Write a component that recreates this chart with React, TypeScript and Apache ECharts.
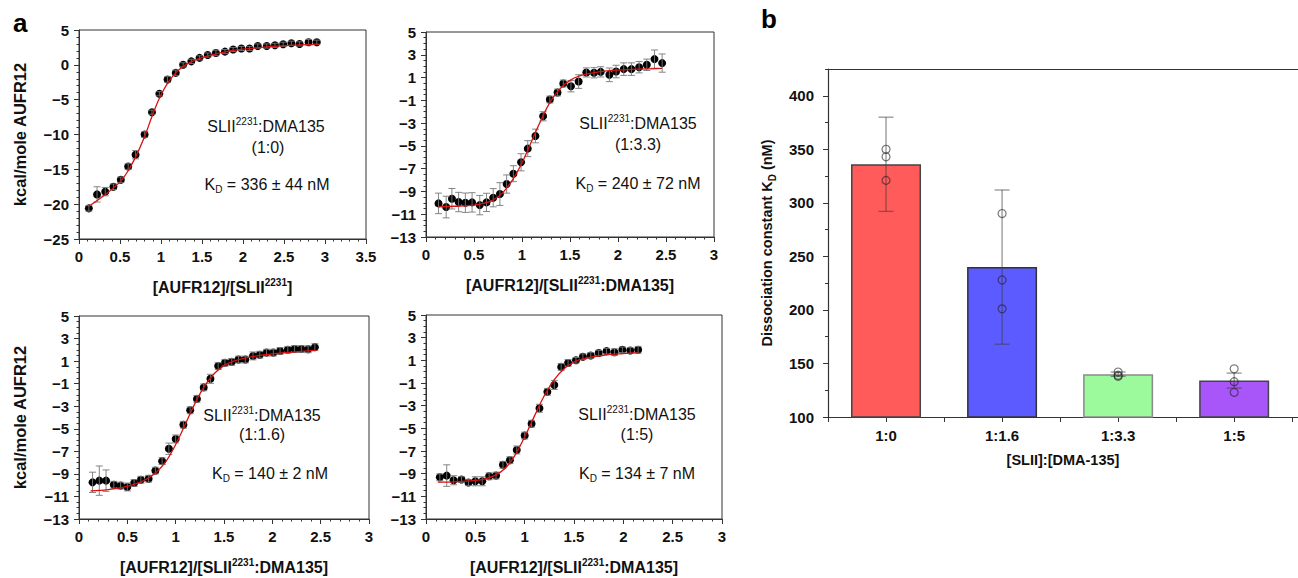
import React, { useEffect, useRef } from 'react';
import * as echarts from 'echarts';

const FONT = "'Liberation Sans', Arial, Helvetica, sans-serif";

// ---------- Panel a: ITC titrations ----------
// (1:0)
const p1X = [0.12, 0.22, 0.32, 0.42, 0.51, 0.6, 0.69, 0.8, 0.89, 0.98, 1.08, 1.18, 1.27, 1.37, 1.47, 1.57, 1.67, 1.78, 1.88, 1.98, 2.08, 2.18, 2.29, 2.39, 2.49, 2.59, 2.69, 2.8, 2.9];
const p1Y = [-20.6, -18.6, -18.2, -17.5, -16.5, -14.6, -12.9, -10.0, -6.8, -4.15, -2.1, -1.15, 0.0, 0.5, 1.0, 1.4, 1.7, 1.9, 2.2, 2.35, 2.35, 2.7, 2.7, 2.8, 2.95, 3.1, 3.0, 3.25, 3.25];
const p1Err = [0.4, 1.1, 0.6, 0.4, 0.4, 0.4, 0.6, 0.4, 0.3, 0.3, 0.4, 0.4, 0.3, 0.3, 0.3, 0.3, 0.4, 0.3, 0.3, 0.3, 0.3, 0.3, 0.3, 0.3, 0.3, 0.3, 0.3, 0.4, 0.3];
const p1FitX = [0.12, 0.3, 0.5, 0.6, 0.7, 0.8, 0.9, 1.0, 1.1, 1.2, 1.3, 1.4, 1.5, 1.75, 2.0, 2.5, 2.92];
const p1FitY = [-20.3, -18.8, -16.8, -15.2, -13.0, -10.3, -7.1, -4.3, -2.3, -0.9, 0.0, 0.6, 1.05, 1.8, 2.25, 2.75, 2.95];

// (1:3.3)
const p2X = [0.13, 0.21, 0.27, 0.34, 0.41, 0.48, 0.56, 0.63, 0.7, 0.77, 0.84, 0.91, 0.99, 1.06, 1.14, 1.22, 1.29, 1.37, 1.43, 1.51, 1.59, 1.67, 1.75, 1.82, 1.91, 1.98, 2.06, 2.14, 2.22, 2.3, 2.38, 2.46];
const p2Y = [-10.05, -10.37, -9.64, -9.93, -9.99, -9.96, -10.2, -9.96, -9.55, -9.23, -8.35, -7.44, -6.44, -5.24, -4.13, -2.4, -0.93, -0.31, 0.48, 0.24, 0.65, 1.45, 1.42, 1.5, 1.24, 1.53, 1.74, 1.74, 1.91, 2.12, 2.62, 2.27];
const p2Err = [0.9, 0.95, 0.9, 0.85, 0.85, 0.85, 0.85, 0.8, 0.8, 1.0, 0.8, 0.7, 0.75, 0.7, 0.6, 0.4, 0.3, 0.3, 0.3, 0.5, 0.6, 0.4, 0.45, 0.45, 0.6, 0.55, 0.55, 0.55, 0.5, 0.5, 0.8, 0.8];
const p2FitX = [0.13, 0.3, 0.5, 0.6, 0.7, 0.8, 0.9, 1.0, 1.1, 1.2, 1.3, 1.4, 1.5, 1.6, 1.8, 2.0, 2.46];
const p2FitY = [-10.35, -10.3, -10.2, -10.05, -9.75, -9.1, -8.0, -6.5, -4.6, -2.7, -1.05, 0.05, 0.75, 1.15, 1.5, 1.65, 1.8];

// (1:1.6)
const p3X = [0.14, 0.21, 0.28, 0.36, 0.43, 0.5, 0.57, 0.64, 0.72, 0.79, 0.86, 0.93, 1.0, 1.08, 1.15, 1.22, 1.29, 1.36, 1.44, 1.51, 1.58, 1.65, 1.72, 1.8, 1.87, 1.94, 2.01, 2.08, 2.16, 2.23, 2.3, 2.37, 2.44];
const p3Y = [-9.75, -9.6, -9.6, -9.96, -10.04, -10.16, -9.81, -9.52, -9.43, -8.71, -7.87, -6.77, -5.9, -4.64, -3.36, -2.35, -1.33, -0.57, 0.56, 0.85, 0.93, 1.14, 1.14, 1.46, 1.57, 1.75, 1.75, 1.9, 2.0, 2.07, 2.07, 2.05, 2.24];
const p3Err = [0.9, 1.3, 0.95, 0.3, 0.3, 0.35, 0.3, 0.3, 0.3, 0.3, 0.3, 0.5, 0.35, 0.3, 0.3, 0.3, 0.3, 0.4, 0.3, 0.3, 0.3, 0.3, 0.3, 0.35, 0.3, 0.3, 0.3, 0.3, 0.3, 0.3, 0.3, 0.3, 0.3];
const p3FitX = [0.12, 0.3, 0.5, 0.6, 0.7, 0.8, 0.9, 1.0, 1.1, 1.2, 1.3, 1.4, 1.5, 1.6, 1.8, 2.0, 2.46];
const p3FitY = [-10.5, -10.4, -10.1, -9.85, -9.45, -8.85, -7.9, -6.4, -4.6, -2.75, -1.2, -0.1, 0.6, 1.0, 1.4, 1.65, 1.95];

// (1:5)
const p4X = [0.14, 0.21, 0.28, 0.36, 0.43, 0.5, 0.57, 0.64, 0.71, 0.78, 0.85, 0.92, 1.0, 1.07, 1.15, 1.23, 1.3, 1.37, 1.44, 1.52, 1.59, 1.67, 1.75, 1.83, 1.91, 1.99, 2.07, 2.15];
const p4Y = [-9.32, -9.17, -9.58, -9.52, -9.78, -9.67, -9.67, -9.23, -9.17, -8.22, -7.81, -6.91, -5.64, -4.59, -3.23, -1.78, -1.17, 0.42, 0.77, 1.0, 1.32, 1.43, 1.64, 1.81, 1.72, 1.93, 1.87, 1.93];
const p4Err = [0.3, 0.95, 0.4, 0.25, 0.25, 0.4, 0.4, 0.3, 0.3, 0.3, 0.3, 0.35, 0.3, 0.3, 0.35, 0.3, 0.4, 0.3, 0.3, 0.25, 0.25, 0.25, 0.25, 0.25, 0.3, 0.25, 0.25, 0.3];
const p4FitX = [0.12, 0.3, 0.5, 0.6, 0.7, 0.8, 0.9, 1.0, 1.1, 1.2, 1.3, 1.4, 1.5, 1.6, 1.8, 2.0, 2.15];
const p4FitY = [-9.75, -9.72, -9.6, -9.45, -9.15, -8.55, -7.4, -5.75, -3.9, -2.1, -0.7, 0.25, 0.85, 1.15, 1.45, 1.6, 1.68];

const yTicksWide = [-25, -20, -15, -10, -5, 0, 5];
const yTicksOdd = [-13, -11, -9, -7, -5, -3, -1, 1, 3, 5];

// ---------- Panel b: dissociation constants ----------
const categories = ['1:0', '1:1.6', '1:3.3', '1:5'];
const kdMean = [336, 240, 140, 134];
const kdErr = [44, 72, 2, 7];
const kdReps = [[350, 343, 321], [290, 228, 201], [142, 139, 138], [145, 133, 123]];
const kdTicks = [100, 150, 200, 250, 300, 350, 400];
const barColors = ['#ff5b5b', '#5b5bff', '#9cf99c', '#a855fa'];
const barBorders = ['#444444', '#333333', '#8a8a8a', '#444444'];

const AXIS_COLOR = '#333';

const supSub = {
  sup: { fontSize: 10, verticalAlign: 'top', lineHeight: 11, fontFamily: FONT },
  sub: { fontSize: 10, verticalAlign: 'bottom', lineHeight: 11, fontFamily: FONT },
};
const supSubBold = {
  sup: { fontSize: 10, fontWeight: 'bold', verticalAlign: 'top', lineHeight: 11, fontFamily: FONT, color: '#111' },
  sub: { fontSize: 10, fontWeight: 'bold', verticalAlign: 'bottom', lineHeight: 11, fontFamily: FONT, color: '#111' },
};

const minus = (v: number) => (v < 0 ? '\u2212' + Math.abs(v) : String(v));

function errRender(cap: number, color: string, width: number) {
  return (params: any, api: any) => {
    const x = api.value(0);
    const lo = api.value(1);
    const hi = api.value(2);
    const a = api.coord([x, hi]);
    const b = api.coord([x, lo]);
    const style = { stroke: color, lineWidth: width, fill: 'none' };
    return {
      type: 'group',
      children: [
        { type: 'line', shape: { x1: a[0], y1: a[1], x2: b[0], y2: b[1] }, style },
        { type: 'line', shape: { x1: a[0] - cap, y1: a[1], x2: a[0] + cap, y2: a[1] }, style },
        { type: 'line', shape: { x1: b[0] - cap, y1: b[1], x2: b[0] + cap, y2: b[1] }, style },
      ],
    };
  };
}

export default function App() {
  const ref = useRef<HTMLDivElement>(null);

  useEffect(() => {
    document.body.style.margin = '0';
    if (!ref.current) return;
    const chart = echarts.init(ref.current, undefined, { renderer: 'svg' });

    const xNameB = '[AUFR12]/[SLII{sup|2231}:DMA135]';
    const panels = [
      { x: p1X, y: p1Y, err: p1Err, fx: p1FitX, fy: p1FitY, grid: { left: 79, top: 30, width: 287, height: 209 }, xMax: 3.5, yMin: -25, yMax: 5, yInt: 5, yMinor: 1, yTicks: yTicksWide, xName: '[AUFR12]/[SLII{sup|2231}]', yName: 'kcal/mole AUFR12' },
      { x: p2X, y: p2Y, err: p2Err, fx: p2FitX, fy: p2FitY, grid: { left: 426, top: 32, width: 288, height: 205 }, xMax: 3, yMin: -13, yMax: 5, yInt: 1, yMinor: 0.5, yTicks: yTicksOdd, xName: xNameB, yName: '' },
      { x: p3X, y: p3Y, err: p3Err, fx: p3FitX, fy: p3FitY, grid: { left: 79, top: 316, width: 290, height: 208 }, xMax: 3, yMin: -13, yMax: 5, yInt: 1, yMinor: 0.5, yTicks: yTicksOdd, xName: xNameB, yName: 'kcal/mole AUFR12' },
      { x: p4X, y: p4Y, err: p4Err, fx: p4FitX, fy: p4FitY, grid: { left: 426, top: 315, width: 296, height: 208 }, xMax: 3, yMin: -13, yMax: 5, yInt: 1, yMinor: 0.5, yTicks: yTicksOdd, xName: xNameB, yName: '' },
    ];

    const grids: any[] = [];
    const xAxes: any[] = [];
    const yAxes: any[] = [];
    const series: any[] = [];

    const tickLabelStyle = { fontFamily: FONT, fontWeight: 'bold', fontSize: 15, color: '#111' };

    panels.forEach((p, i) => {
      grids.push({ ...p.grid, show: true, borderColor: '#333', borderWidth: 1, backgroundColor: 'transparent' });
      xAxes.push({
        type: 'value', gridIndex: i, position: 'bottom', min: 0, max: p.xMax, interval: 0.5,
        axisLine: { show: true, onZero: false, lineStyle: { color: AXIS_COLOR, width: 1 } },
        axisTick: { show: true, length: 5, inside: false, lineStyle: { color: AXIS_COLOR } },
        axisLabel: { ...tickLabelStyle, margin: 10, formatter: (v: number) => String(v) },
        splitLine: { show: false },
        name: p.xName, nameLocation: 'middle', nameGap: 38,
        nameTextStyle: { fontFamily: FONT, fontWeight: 'bold', fontSize: 16, color: '#111', lineHeight: 20, rich: supSubBold },
      });
      xAxes.push({
        type: 'value', gridIndex: i, position: 'bottom', min: 0, max: p.xMax, interval: 0.1,
        axisLine: { show: false, onZero: false }, axisLabel: { show: false }, splitLine: { show: false },
        axisTick: { show: true, length: 2.5, inside: false, lineStyle: { color: AXIS_COLOR } },
      });
      yAxes.push({
        type: 'value', gridIndex: i, position: 'left', min: p.yMin, max: p.yMax, interval: p.yInt,
        axisLine: { show: true, onZero: false, lineStyle: { color: AXIS_COLOR, width: 1 } },
        axisTick: { show: true, length: 5, inside: false, customValues: p.yTicks, lineStyle: { color: AXIS_COLOR } },
        axisLabel: {
          ...tickLabelStyle, margin: 10, customValues: p.yTicks,
          formatter: (v: number) => (p.yTicks.indexOf(v) >= 0 ? minus(v) : ''),
        },
        splitLine: { show: false },
        name: p.yName, nameLocation: 'middle', nameGap: 49,
        nameTextStyle: { fontFamily: FONT, fontWeight: 'bold', fontSize: 16.5, color: '#111', lineHeight: 20 },
      });
      yAxes.push({
        type: 'value', gridIndex: i, position: 'left', min: p.yMin, max: p.yMax, interval: p.yMinor,
        axisLine: { show: false, onZero: false }, axisLabel: { show: false }, splitLine: { show: false },
        axisTick: { show: true, length: 2.5, inside: false, lineStyle: { color: AXIS_COLOR } },
      });
      const ax = i * 2;
      series.push({
        type: 'scatter', xAxisIndex: ax, yAxisIndex: ax, symbol: 'circle', symbolSize: 8, z: 2,
        itemStyle: { color: '#000', opacity: 1 }, data: p.x.map((xv, k) => [xv, p.y[k]]),
      });
      series.push({
        type: 'custom', xAxisIndex: ax, yAxisIndex: ax, z: 3,
        renderItem: errRender(3.5, 'rgba(120,120,120,0.9)', 1),
        encode: { x: 0, y: [1, 2] },
        data: p.x.map((xv, k) => [xv, p.y[k] - p.err[k], p.y[k] + p.err[k]]),
      });
      series.push({
        type: 'line', xAxisIndex: ax, yAxisIndex: ax, z: 4, smooth: 0.4, showSymbol: false, symbol: 'none',
        lineStyle: { color: '#d81010', width: 1.3 }, data: p.fx.map((xv, k) => [xv, p.fy[k]]),
      });
    });

    // Panel b
    grids.push({ left: 828, top: 69, width: 470, height: 348, show: false });
    const bxTicks = [-0.5, 0, 0.5, 1, 1.5, 2, 2.5, 3, 3.5];
    const bxLabels = [0, 1, 2, 3];
    xAxes.push({
      type: 'value', gridIndex: 4, position: 'bottom', min: -0.5, max: 3.55,
      axisLine: { show: true, onZero: false, lineStyle: { color: AXIS_COLOR, width: 1.2 } },
      axisTick: { show: true, length: 5, inside: false, customValues: bxTicks, lineStyle: { color: AXIS_COLOR } },
      axisLabel: {
        ...tickLabelStyle, margin: 11, customValues: bxLabels,
        formatter: (v: number) => (Number.isInteger(v) && v >= 0 && v < categories.length ? categories[v] : ''),
      },
      splitLine: { show: false },
      name: '[SLII]:[DMA-135]', nameLocation: 'middle', nameGap: 33,
      nameTextStyle: { fontFamily: FONT, fontWeight: 'bold', fontSize: 14.5, color: '#111', lineHeight: 20 },
    });
    xAxes.push({
      type: 'value', gridIndex: 4, position: 'top', min: -0.5, max: 3.55,
      axisLine: { show: true, onZero: false, lineStyle: { color: AXIS_COLOR, width: 1.2 } },
      axisTick: { show: false }, axisLabel: { show: false }, splitLine: { show: false },
    });
    yAxes.push({
      type: 'value', gridIndex: 4, position: 'left', min: 100, max: 425, interval: 50,
      axisLine: { show: true, onZero: false, lineStyle: { color: AXIS_COLOR, width: 1.2 } },
      axisTick: { show: true, length: 5, inside: false, customValues: kdTicks, lineStyle: { color: AXIS_COLOR } },
      axisLabel: {
        ...tickLabelStyle, margin: 14, customValues: kdTicks,
        formatter: (v: number) => (kdTicks.indexOf(v) >= 0 ? String(v) : ''),
      },
      splitLine: { show: false },
      name: 'Dissociation constant K{sub|D} (nM)', nameLocation: 'middle', nameGap: 51,
      nameTextStyle: { fontFamily: FONT, fontWeight: 'bold', fontSize: 14.5, color: '#111', lineHeight: 20, rich: supSubBold },
    });
    yAxes.push({
      type: 'value', gridIndex: 4, position: 'left', min: 100, max: 425, interval: 25,
      axisLine: { show: false, onZero: false }, axisLabel: { show: false }, splitLine: { show: false },
      axisTick: { show: true, length: 3, inside: false, lineStyle: { color: AXIS_COLOR } },
    });

    series.push({
      type: 'bar', xAxisIndex: 8, yAxisIndex: 8, barWidth: 70, z: 1,
      data: categories.map((c, i) => ({
        value: [i, kdMean[i]],
        itemStyle: { color: barColors[i], borderColor: barBorders[i], borderWidth: 1.5 },
      })),
    });
    series.push({
      type: 'custom', xAxisIndex: 8, yAxisIndex: 8, z: 3,
      renderItem: errRender(7.5, 'rgba(60,60,60,0.55)', 1.3),
      encode: { x: 0, y: [1, 2] },
      data: categories.map((c, i) => [i, kdMean[i] - kdErr[i], kdMean[i] + kdErr[i]]),
    });
    const reps: number[][] = [];
    kdReps.forEach((arr, i) => arr.forEach((v) => reps.push([i, v])));
    series.push({
      type: 'scatter', xAxisIndex: 8, yAxisIndex: 8, z: 4, symbol: 'circle', symbolSize: 8,
      itemStyle: { color: 'rgba(0,0,0,0)', borderColor: 'rgba(30,30,30,0.6)', borderWidth: 1.2, opacity: 1 },
      data: reps,
    });

    const annText = (x: number, y: number, text: string) => ({
      type: 'text', x, y, z: 100,
      style: {
        text, fill: '#111', fontFamily: FONT, fontSize: 16, fontWeight: 'normal',
        align: 'center', verticalAlign: 'middle', textAlign: 'center', textVerticalAlign: 'middle',
        lineHeight: 20, rich: supSub,
      },
    });

    const graphics: any[] = [
      { type: 'text', x: 13, y: 23, z: 100, style: { text: 'a', fill: '#000', fontFamily: FONT, fontSize: 26, fontWeight: 'bold', align: 'left', verticalAlign: 'middle', textAlign: 'left', textVerticalAlign: 'middle' } },
      { type: 'text', x: 761, y: 19, z: 100, style: { text: 'b', fill: '#000', fontFamily: FONT, fontSize: 26, fontWeight: 'bold', align: 'left', verticalAlign: 'middle', textAlign: 'left', textVerticalAlign: 'middle' } },
      annText(266, 126, 'SLII{sup|2231}:DMA135'),
      annText(268, 147, '(1:0)'),
      annText(267, 184, 'K{sub|D} = 336 ± 44 nM'),
      annText(638, 123, 'SLII{sup|2231}:DMA135'),
      annText(638, 144, '(1:3.3)'),
      annText(638, 183, 'K{sub|D} = 240 ± 72 nM'),
      annText(262, 415, 'SLII{sup|2231}:DMA135'),
      annText(262, 434, '(1:1.6)'),
      annText(270, 473, 'K{sub|D} = 140 ± 2 nM'),
      annText(637, 414, 'SLII{sup|2231}:DMA135'),
      annText(637, 434, '(1:5)'),
      annText(637, 473, 'K{sub|D} = 134 ± 7 nM'),
    ];

    chart.setOption({
      animation: false,
      backgroundColor: '#fff',
      textStyle: { fontFamily: FONT },
      grid: grids,
      xAxis: xAxes,
      yAxis: yAxes,
      series,
      graphic: graphics,
    });

    return () => chart.dispose();
  }, []);

  return <div ref={ref} style={{ width: 1298, height: 578 }} />;
}
